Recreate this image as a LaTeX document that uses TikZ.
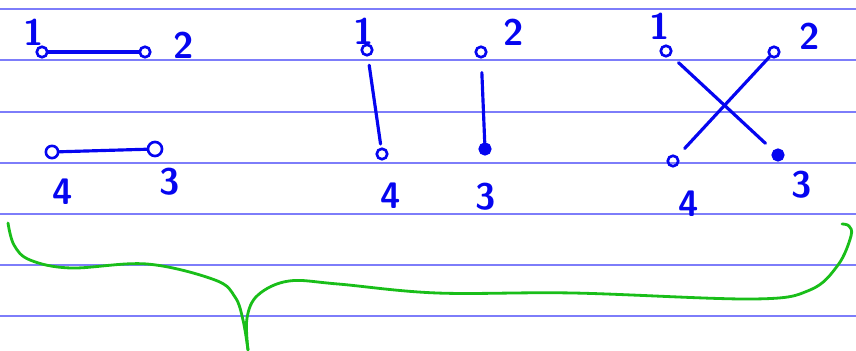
\documentclass[tikz,border=0pt]{standalone}
\usepackage{tikz}
\definecolor{penblue}{RGB}{5,5,240}
\definecolor{ruleblue}{RGB}{125,125,250}
\definecolor{pengreen}{RGB}{25,190,25}

\begin{document}
\begin{tikzpicture}[x=0.02cm, y=-0.02cm, line cap=round,
    vert/.style={circle, draw=penblue, line width=1.5pt, inner sep=0pt, minimum size=6pt},
    blob/.style={vert, fill=penblue},
    lbl/.style={text=penblue, inner sep=0pt, font=\sffamily\bfseries\fontsize{21}{21}\selectfont},
    pair/.style={draw=penblue, line width=1.8pt}]
    \useasboundingbox (0,0) rectangle (856,351);

    % ruled paper
    \foreach \y in {9,60,112,163,214,265,316}
        \draw[ruleblue, line width=0.6pt] (0,\y) -- (856,\y);

    % first pairing: 1-2, 4-3
    \node[vert] (a1) at (42,52) {};
    \node[vert] (a2) at (145,52) {};
    \node[vert, minimum size=7pt] (a4) at (52,152) {};
    \node[vert, minimum size=8pt] (a3) at (155,149) {};
    \node[lbl] (la1) at (34,32) {1};
    \node[lbl] (la2) at (184,45) {2};
    \node[lbl] (la4) at (63,192) {4};
    \node[lbl] (la3) at (170,182) {3};
    \draw[pair] (a1) -- (a2);
    \draw[pair] (a4) -- (a3);

    % second pairing: 1-4, 2-3
    \node[vert] (b1) at (367,50) {};
    \node[vert] (b2) at (481,52) {};
    \node[vert] (b4) at (382,154) {};
    \node[blob] (b3) at (485,149) {};
    \node[lbl] (lb1) at (364,31) {1};
    \node[lbl] (lb2) at (514,32) {2};
    \node[lbl] (lb4) at (391,196) {4};
    \node[lbl] (lb3) at (486,197) {3};
    \draw[pair, shorten <=5pt, shorten >=2pt] (b1) -- (b4);
    \draw[pair, shorten <=8pt] (b2) -- (b3);

    % third pairing: 1-3, 2-4 (crossing)
    \node[vert] (c1) at (666,51) {};
    \node[vert] (c2) at (774,52) {};
    \node[vert] (c4) at (673,161) {};
    \node[blob] (c3) at (778,155) {};
    \node[lbl] (lc1) at (660,26) {1};
    \node[lbl] (lc2) at (810,36) {2};
    \node[lbl] (lc4) at (689,204) {4};
    \node[lbl] (lc3) at (802,185) {3};
    \draw[pair, shorten <=6pt, shorten >=6pt] (c1) -- (c3);
    \draw[pair, shorten >=6pt] (c2) -- (c4);

    % brace under all three
    \coordinate (tip) at (248,350);
    \draw[pengreen, line width=1.6pt] plot[smooth, tension=0.6] coordinates
        {(8,223) (14,245) (30,260) (71,268) (147,264) (215,280) (235,297) (243,320) (tip)};
    \draw[pengreen, line width=1.6pt] plot[smooth, tension=0.6] coordinates
        {(tip) (247,318) (258,295) (289,281) (338,284) (437,293) (573,293) (753,299)
         (810,290) (838,265) (851,236) (849,226) (842,224)};
\end{tikzpicture}
\end{document}
